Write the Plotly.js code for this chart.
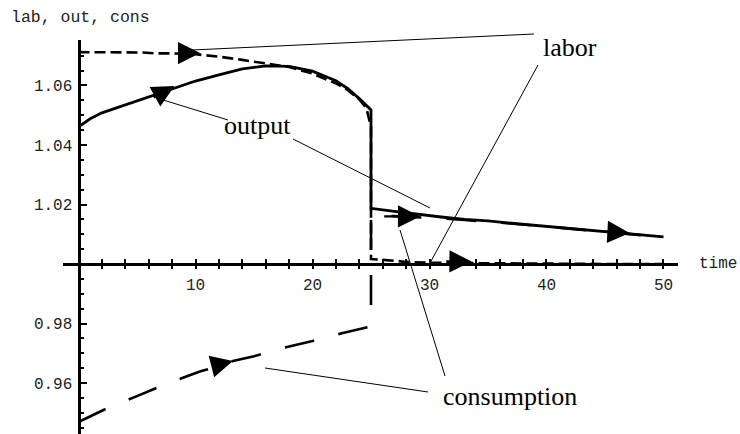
<!DOCTYPE html>
<html>
<head>
<meta charset="utf-8">
<script src="https://cdn.plot.ly/plotly-3.0.1.min.js"></script>
<style>html,body{margin:0;padding:0;background:#fff;}#chart{width:740px;height:434px;}</style>
</head>
<body>
<div id="chart"></div>
<script>
// ---- data ----
const laborT = [0, 2, 4, 5.5, 6.5, 8, 10, 12, 14, 16, 18, 20, 22, 23, 24, 24.6, 25, 25, 26, 27, 28, 30, 33, 36, 40, 45, 50];
const laborV = [1.0712, 1.0712, 1.0711, 1.0711, 1.0708, 1.0708, 1.0705, 1.0697, 1.0686, 1.0675, 1.0662, 1.0640, 1.0607, 1.0585, 1.0553, 1.0525, 1.0460, 1.0017, 1.0015, 1.0011, 1.0007, 1.0004, 1.0003, 1.0002, 1.0001, 1.0000, 1.0000];

const outputT = [0, 1, 2, 4, 6, 8, 10, 12, 14, 16, 18, 20, 22, 23, 24, 25, 25, 27, 29, 31, 33, 35, 37, 39, 41, 43, 45, 47, 49, 50];
const outputV = [1.0461, 1.0488, 1.0508, 1.0535, 1.0561, 1.0590, 1.0615, 1.0636, 1.0656, 1.0666, 1.0664, 1.0648, 1.0616, 1.0590, 1.0556, 1.0518, 1.0187, 1.0177, 1.0167, 1.0158, 1.0150, 1.0145, 1.0137, 1.0130, 1.0123, 1.0115, 1.0107, 1.0101, 1.0094, 1.0091];

const consT = [0, 2.5, 5, 7.5, 9.5, 10.5, 12, 13.2, 15, 17.5, 20, 22.5, 25, 25, 27, 29, 31, 33, 35, 37, 40, 43, 46, 50];
const consV = [0.9469, 0.9516, 0.9556, 0.9597, 0.9626, 0.9640, 0.9656, 0.9674, 0.9690, 0.9718, 0.9741, 0.9767, 0.9790, 1.0163, 1.0161, 1.0158, 1.0153, 1.0148, 1.0143, 1.0136, 1.0126, 1.0115, 1.0103, 1.0090];

// direction arrows on the paths (tip and tail, in data units)
const arrowTipT  = [10.4, 8.2, 13.2, 29.2, 47.1, 33.6];
const arrowTipV  = [1.0709, 1.0598, 0.9674, 1.0160, 1.0104, 1.0008];
const arrowTailT = [8.4, 6.3, 11.3, 26.0, 44.8, 31.3];
const arrowTailV = [1.0709, 1.0557, 0.9655, 1.0160, 1.0109, 1.0009];

const xTickVals = [10, 20, 30, 40, 50];
const xTickText = ['10', '20', '30', '40', '50'];
const yTickVals = [0.96, 0.98, 1.02, 1.04, 1.06];
const yTickText = ['0.96', '0.98', '1.02', '1.04', '1.06'];

const axisLabelY = 'lab, out, cons';
const axisLabelX = 'time';
const curveLabels = ['labor', 'output', 'consumption'];

// ---- layout geometry ----
const W = 740, H = 434;
const M = {l: 63, r: 62, t: 40, b: 0};
const PW = W - M.l - M.r, PH = H - M.t - M.b;
const xRange = [-1.325, 51.24];
const yRange = [0.94286, 1.07529];
const px = x => (x - M.l) / PW;       // pixel -> paper
const py = y => (H - M.b - y) / PH;
const xAxisPos = (1 - yRange[0]) / (yRange[1] - yRange[0]);
const yAxisPos = (0 - xRange[0]) / (xRange[1] - xRange[0]);

const mono = 'Liberation Mono, Courier New, monospace';
const serif = 'Liberation Serif, Times New Roman, serif';

const traces = [
  {x: consT, y: consV, mode: 'lines', line: {color: '#000', width: 2.6, dash: '30px,25px'}, showlegend: false, hoverinfo: 'skip'},
  {x: laborT, y: laborV, mode: 'lines', line: {color: '#000', width: 2.6, dash: '11px,5px'}, showlegend: false, hoverinfo: 'skip'},
  {x: outputT, y: outputV, mode: 'lines', line: {color: '#000', width: 2.8}, showlegend: false, hoverinfo: 'skip'},
  {x: [], y: [], xaxis: 'x2', yaxis: 'y', showlegend: false, hoverinfo: 'skip'}
];

const annotations = [];
for (let i = 0; i < arrowTipT.length; i++) {
  annotations.push({x: arrowTipT[i], y: arrowTipV[i], xref: 'x', yref: 'y',
    ax: arrowTailT[i], ay: arrowTailV[i], axref: 'x', ayref: 'y',
    text: '', showarrow: true, arrowhead: 2, arrowsize: 1.85, arrowwidth: 2.4, arrowcolor: '#000', standoff: 0});
}
annotations.push({text: axisLabelY, xref: 'paper', yref: 'paper', x: px(9), y: py(17), xanchor: 'left', yanchor: 'middle', showarrow: false, font: {family: mono, size: 16.5, color: '#222'}});
annotations.push({text: axisLabelX, xref: 'paper', yref: 'paper', x: px(697), y: py(264), xanchor: 'left', yanchor: 'middle', showarrow: false, font: {family: mono, size: 16, color: '#222'}});
const labelPos = [[569.5, 47], [257.5, 125], [509.5, 396]];
curveLabels.forEach((t, i) => {
  annotations.push({text: t, xref: 'paper', yref: 'paper', x: px(labelPos[i][0]), y: py(labelPos[i][1]), xanchor: 'center', yanchor: 'middle', showarrow: false, font: {family: serif, size: 26, color: '#000'}});
});

const pointerLines = [
  [192, 50, 534, 34], [538, 65, 430, 263],
  [160, 99, 228, 120], [293, 139, 430, 208],
  [265, 368, 428, 392], [400, 230, 445, 376]
];
const shapes = pointerLines.map(p => ({type: 'line', xref: 'paper', yref: 'paper',
  x0: px(p[0]), y0: py(p[1]), x1: px(p[2]), y1: py(p[3]), line: {color: '#000', width: 1}}));

const xCommon = {range: xRange, showgrid: false, zeroline: false, anchor: 'free', position: xAxisPos};
const layout = {
  width: W, height: H, margin: M,
  paper_bgcolor: '#fff', plot_bgcolor: '#fff',
  showlegend: false,
  xaxis: Object.assign({}, xCommon, {
    showline: true, linecolor: '#000', linewidth: 3.5,
    tickmode: 'array', tickvals: xTickVals, ticktext: xTickText,
    ticks: 'inside', ticklen: 4, tickwidth: 2, tickcolor: '#000',
    minor: {dtick: 2, tick0: 0, ticks: 'inside', ticklen: 4, tickwidth: 2, tickcolor: '#000'},
    tickfont: {family: mono, size: 16, color: '#222'}, ticklabelstandoff: 4
  }),
  xaxis2: Object.assign({}, xCommon, {
    overlaying: 'x', matches: 'x', showline: false, showticklabels: false,
    tickmode: 'array', tickvals: xTickVals,
    ticks: 'outside', ticklen: 4, tickwidth: 2, tickcolor: '#000',
    minor: {dtick: 2, tick0: 0, ticks: 'outside', ticklen: 4, tickwidth: 2, tickcolor: '#000'}
  }),
  yaxis: {
    range: yRange, showgrid: false, zeroline: false, anchor: 'free', position: yAxisPos,
    showline: true, linecolor: '#000', linewidth: 3.5,
    tickmode: 'array', tickvals: yTickVals, ticktext: yTickText,
    ticks: 'inside', ticklen: 6, tickwidth: 2, tickcolor: '#000',
    minor: {dtick: 0.005, tick0: 0.94, ticks: 'inside', ticklen: 3, tickwidth: 2, tickcolor: '#000'},
    tickfont: {family: mono, size: 16, color: '#222'}, ticklabelstandoff: 2
  },
  annotations: annotations,
  shapes: shapes
};

Plotly.newPlot('chart', traces, layout, {staticPlot: true, displayModeBar: false});
</script>
</body>
</html>
